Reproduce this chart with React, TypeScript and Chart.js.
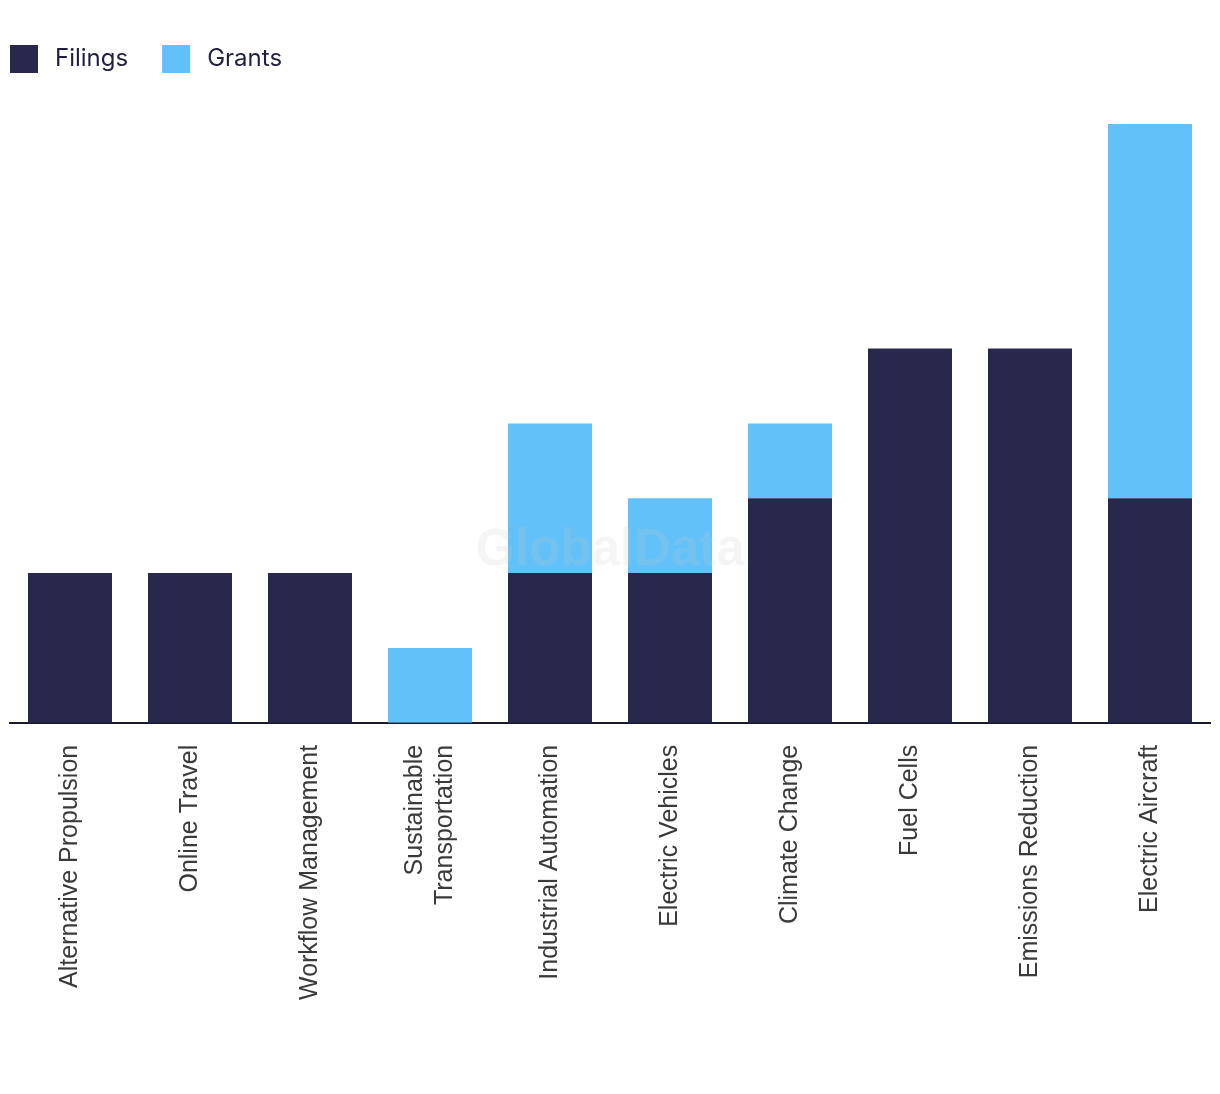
import React, { useEffect, useRef } from "react";
import { Chart, registerables } from "chart.js";

Chart.register(...registerables);

const categories: (string | string[])[] = [
  "Alternative Propulsion",
  "Online Travel",
  "Workflow Management",
  ["Sustainable", "Transportation"],
  "Industrial Automation",
  "Electric Vehicles",
  "Climate Change",
  "Fuel Cells",
  "Emissions Reduction",
  "Electric Aircraft",
];
const filings = [2, 2, 2, 0, 2, 2, 3, 5, 5, 3];
const grants = [0, 0, 0, 1, 2, 1, 1, 0, 0, 5];

const NAVY = "#27284b";
const BLUE = "#62c1f9";
const TICK_FONT = "25px 'Liberation Sans', Arial, sans-serif";

const watermark = {
  id: "watermark",
  afterDatasetsDraw(chart: any) {
    const { ctx, chartArea } = chart;
    ctx.save();
    ctx.font = "bold 51px 'Liberation Sans', Arial, sans-serif";
    ctx.fillStyle = "rgba(200,200,200,0.18)";
    ctx.textAlign = "center";
    ctx.textBaseline = "alphabetic";
    ctx.fillText("GlobalData", (chartArea.left + chartArea.right) / 2, 557);
    ctx.restore();
  },
};

const customLegend = {
  id: "customLegend",
  afterDraw(chart: any) {
    const { ctx } = chart;
    ctx.save();
    ctx.font = "24px Inter, 'Noto Sans', sans-serif";
    ctx.textBaseline = "middle";
    ctx.textAlign = "left";
    let x = 2;
    const y = 37;
    const box = 28;
    chart.data.datasets.forEach((ds: any) => {
      ctx.fillStyle = ds.backgroundColor;
      ctx.fillRect(x, y, box, box);
      const tx = x + box + 17;
      ctx.fillStyle = "#1f2040";
      ctx.fillText(ds.label, tx, y + box / 2);
      x = tx + ctx.measureText(ds.label).width + 34;
    });
    ctx.restore();
  },
};

const centeredTickLabels = {
  id: "centeredTickLabels",
  afterDraw(chart: any) {
    const { ctx } = chart;
    const xs = chart.scales.x;
    const lineHeight = 30;
    ctx.save();
    ctx.font = TICK_FONT;
    ctx.fillStyle = "#3a3a3a";
    ctx.textAlign = "right";
    ctx.textBaseline = "middle";
    xs.ticks.forEach((_t: any, i: number) => {
      const label = chart.data.labels[i];
      const lines: string[] = Array.isArray(label) ? label : [label];
      const px = xs.getPixelForTick(i);
      ctx.save();
      ctx.translate(px, xs.top + 22);
      ctx.rotate(-Math.PI / 2);
      lines.forEach((ln, j) => {
        ctx.fillText(ln, 0, (j - (lines.length - 1) / 2) * lineHeight);
      });
      ctx.restore();
    });
    ctx.restore();
  },
};

export default function App() {
  const ref = useRef<HTMLCanvasElement | null>(null);
  useEffect(() => {
    if (!ref.current) return;
    const chart = new Chart(ref.current, {
      type: "bar",
      data: {
        labels: categories,
        datasets: [
          { label: "Filings", data: filings, backgroundColor: NAVY, barPercentage: 0.7, categoryPercentage: 1 },
          { label: "Grants", data: grants, backgroundColor: BLUE, barPercentage: 0.7, categoryPercentage: 1 },
        ],
      },
      options: {
        animation: false,
        responsive: false,
        maintainAspectRatio: false,
        layout: { padding: { left: 2, right: 2, top: 116, bottom: 0 } },
        plugins: {
          legend: { display: false },
          tooltip: { enabled: false },
        },
        scales: {
          x: {
            stacked: true,
            grid: { display: false },
            border: { display: true, color: "#1a1a2e", width: 2 },
            ticks: {
              minRotation: 90,
              maxRotation: 90,
              padding: 13,
              color: "rgba(0,0,0,0)",
              font: { size: 25, family: "'Liberation Sans', Arial, sans-serif" },
            },
          },
          y: {
            stacked: true,
            display: false,
            min: 0,
            max: 8,
          },
        },
      },
      plugins: [watermark, customLegend, centeredTickLabels],
    });
    return () => chart.destroy();
  }, []);
  return <canvas ref={ref} width={1204} height={1004} style={{ display: "block" }} />;
}
